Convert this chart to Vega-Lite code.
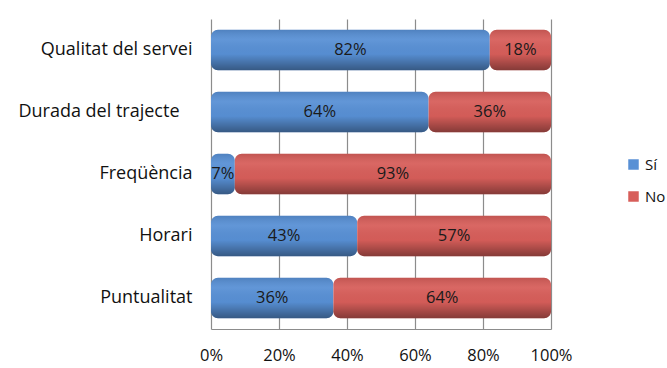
{
  "$schema": "https://vega.github.io/schema/vega-lite/v6.json",
  "autosize": "none",
  "width": 340,
  "height": 310,
  "padding": {"left": 211, "top": 19, "right": 116, "bottom": 39},
  "background": "white",
  "config": {
    "font": "Open Sans",
    "view": {"stroke": null}
  },
  "data": {
    "values": [
      {"cat": "Qualitat del servei", "serie": "Sí", "value": 82},
      {"cat": "Qualitat del servei", "serie": "No", "value": 18},
      {"cat": "Durada del trajecte\u2800", "serie": "Sí", "value": 64},
      {"cat": "Durada del trajecte\u2800", "serie": "No", "value": 36},
      {"cat": "Freqüència", "serie": "Sí", "value": 7},
      {"cat": "Freqüència", "serie": "No", "value": 93},
      {"cat": "Horari", "serie": "Sí", "value": 43},
      {"cat": "Horari", "serie": "No", "value": 57},
      {"cat": "Puntualitat", "serie": "Sí", "value": 36},
      {"cat": "Puntualitat", "serie": "No", "value": 64}
    ]
  },
  "transform": [
    {"stack": "value", "groupby": ["cat"], "sort": [{"field": "serie", "order": "descending"}], "as": ["v0", "v1"]},
    {"calculate": "(datum.v0 + datum.v1) / 2", "as": "mid"},
    {"calculate": "datum.value + '%'", "as": "label"}
  ],
  "encoding": {
    "y": {
      "field": "cat",
      "type": "nominal",
      "sort": ["Qualitat del servei", "Durada del trajecte\u2800", "Freqüència", "Horari", "Puntualitat"],
      "scale": {"paddingInner": 0.35, "paddingOuter": 0.175},
      "axis": {
        "title": null,
        "domain": false,
        "ticks": false,
        "labelPadding": 19,
        "labelFontSize": 18,
        "labelColor": "#111111",
        "labelFont": "Open Sans"
      }
    }
  },
  "layer": [
    {
      "mark": {"type": "bar", "cornerRadius": 7},
      "encoding": {
        "x": {
          "field": "v0",
          "type": "quantitative",
          "scale": {"domain": [0, 100], "nice": false},
          "axis": {
            "title": null,
            "values": [0, 20, 40, 60, 80, 100],
            "labelExpr": "datum.value + '%'",
            "labelFontSize": 16.5,
            "labelColor": "#111111",
            "labelPadding": 18,
            "labelFlush": false,
            "ticks": false,
            "domain": true,
            "domainColor": "#8c8c8c",
            "grid": true,
            "gridColor": "#8c8c8c",
            "gridWidth": 1.2
          }
        },
        "x2": {"field": "v1"},
        "color": {
          "field": "serie",
          "type": "nominal",
          "scale": {"domain": ["Sí", "No"], "range": ["#5890d5", "#d75e5a"]},
          "legend": {
            "title": null,
            "orient": "none",
            "legendX": 415,
            "legendY": 138,
            "symbolType": "square",
            "symbolSize": 110,
            "symbolStrokeWidth": 0,
            "labelFontSize": 15,
            "labelColor": "#111111",
            "rowPadding": 16,
            "labelOffset": 4
          }
        }
      }
    },
    {
      "mark": {
        "type": "bar",
        "cornerRadius": 7,
        "fill": {
          "gradient": "linear",
          "x1": 0, "y1": 0, "x2": 0, "y2": 1,
          "stops": [
            {"offset": 0, "color": "rgba(0,0,0,0.10)"},
            {"offset": 0.25, "color": "rgba(255,255,255,0.06)"},
            {"offset": 0.6, "color": "rgba(0,0,0,0.02)"},
            {"offset": 1, "color": "rgba(0,0,0,0.38)"}
          ]
        }
      },
      "encoding": {
        "x": {"field": "v0", "type": "quantitative"},
        "x2": {"field": "v1"}
      }
    },
    {
      "mark": {"type": "text", "fontSize": 16.5, "color": "#1a1a1a", "font": "Open Sans"},
      "encoding": {
        "x": {"field": "mid", "type": "quantitative"},
        "text": {"field": "label", "type": "nominal"},
        "detail": {"field": "serie"}
      }
    }
  ]
}
